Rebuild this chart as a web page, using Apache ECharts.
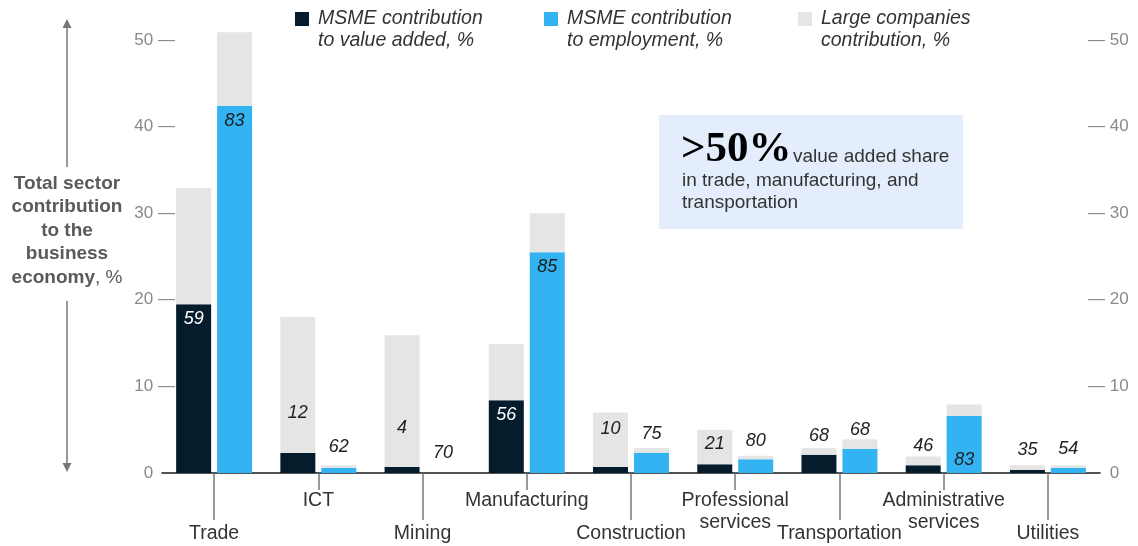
<!DOCTYPE html>
<html>
<head>
<meta charset="utf-8">
<script src="https://cdn.jsdelivr.net/npm/echarts@6/dist/echarts.min.js"></script>
<style>
  html, body { margin: 0; padding: 0; background: #fff; }
  #chart { width: 1138px; height: 546px; }
</style>
</head>
<body>
<div id="chart"></div>
<script>
// ---------------------------------------------------------------------------
// Data – sector contribution to the business economy, %
// ---------------------------------------------------------------------------

const categories = [
  'Trade', 'ICT', 'Mining', 'Manufacturing', 'Construction',
  'Professional\nservices', 'Transportation', 'Administrative\nservices', 'Utilities',
]

// value added: MSME part + large companies part (stacked)
const valueAddedMsme  = [19.5, 2.3, 0.7, 8.4, 0.7, 1.0, 2.1, 0.9, 0.35]
const valueAddedLarge = [13.4, 15.7, 15.2, 6.5, 6.3, 4.0, 0.8, 1.0, 0.55]

// employment: MSME part + large companies part (stacked)
const employmentMsme  = [42.4, 0.6, 0, 25.5, 2.35, 1.6, 2.8, 6.6, 0.6]
const employmentLarge = [8.5, 0.3, 0, 4.5, 0.55, 0.4, 1.1, 1.3, 0.3]

// MSME share printed on each bar, %
const valueAddedShare = [59, 12, 4, 56, 10, 21, 68, 46, 35]
const employmentShare = [83, 62, 70, 85, 75, 80, 68, 83, 54]

const yTicks = [0, 10, 20, 30, 40, 50]

const legendNames = [
  'MSME contribution\nto value added, %',
  'MSME contribution\nto employment, %',
  'Large companies\ncontribution, %',
]

// ---------------------------------------------------------------------------
// Label placement (style only): where the share label sits and how far off
// ---------------------------------------------------------------------------
const valueAddedLabelAt  = ['msme', 'large', 'large', 'msme', 'large', 'large', 'top', 'top', 'top']
const valueAddedLabelGap = [6, 31, 30, 6, 29, 11, 3, 2, 6]
const employmentLabelAt  = ['msme', 'top', 'top', 'msme', 'top', 'top', 'top', 'msmeBottom', 'top']
const employmentLabelGap = [6, 9, 11, 6, 5, 6, 0, 4, 7]

const FONT = '"Liberation Sans", Arial, sans-serif'
const NAVY = '#051C2C'
const BLUE = '#33B3F2'
const GREY = '#E5E5E5'

function stackData(values, shares, labelAt, gaps, part, insideColor) {
  return values.map((v, i) => {
    const at = labelAt[i]
    let label = { show: false }
    if (part === 'msme' && at === 'msme') {
      label = { show: true, position: 'insideTop', distance: gaps[i], color: insideColor }
    } else if (part === 'msme' && at === 'msmeBottom') {
      label = { show: true, position: 'insideBottom', distance: gaps[i] }
    } else if (part === 'large' && at === 'large') {
      label = { show: true, position: 'insideBottom', distance: gaps[i] }
    } else if (part === 'large' && at === 'top') {
      label = { show: true, position: 'top', distance: gaps[i] }
    }
    label.formatter = String(shares[i])
    return { value: v, label }
  })
}

const barLabel = {
  fontFamily: FONT, fontSize: 18, fontStyle: 'italic', color: '#222',
}

// category axis: long ticks under even sectors, short ones under odd sectors
function categoryAxis(even, tickLen, labelMargin, showLine) {
  const pick = (i) => (i % 2 === 0) === even
  return {
    type: 'category',
    data: categories,
    position: 'bottom',
    axisLine: { show: showLine, lineStyle: { color: '#1a1a1a', width: 1.5 } },
    axisTick: {
      show: true, alignWithLabel: true, length: tickLen,
      interval: (i) => pick(i),
      lineStyle: { color: '#777', width: 1.5 },
    },
    axisLabel: {
      interval: (i) => pick(i), margin: labelMargin,
      fontSize: 19.5, color: '#333', lineHeight: 22, fontFamily: FONT,
    },
  }
}

const chart = echarts.init(document.getElementById('chart'))

const legendLeft = [295, 544, 798]

chart.setOption({
  animation: false,
  textStyle: { fontFamily: FONT },
  grid: { left: 162, right: 38, top: 40, bottom: 73, outerBoundsMode: 'none' },
  legend: legendNames.map((name, i) => ({
    data: [name],
    left: legendLeft[i],
    top: -17,
    padding: 0,
    icon: 'rect',
    itemWidth: 14,
    itemHeight: 14,
    selectedMode: false,
    formatter: (n) => '\n' + n,
    textStyle: {
      fontFamily: FONT, fontSize: 19.5, fontStyle: 'italic', color: '#333',
      lineHeight: 22, padding: [6, 0, 0, 4],
    },
  })),
  xAxis: [
    categoryAxis(true, 47, 50, true),
    categoryAxis(false, 17, 17, false),
  ],
  yAxis: [
    {
      type: 'value', position: 'left',
      min: yTicks[0], max: yTicks[yTicks.length - 1], interval: 10,
      axisLine: { show: false }, axisTick: { show: false }, splitLine: { show: false },
      axisLabel: {
        margin: -13, fontSize: 17, color: '#8a8a8a', fontFamily: FONT,
        formatter: (v) => (v === 0 ? '0 {h|—}' : v + ' —'),
        rich: { h: { color: 'rgba(0,0,0,0)' } },
      },
    },
    {
      type: 'value', position: 'right',
      min: yTicks[0], max: yTicks[yTicks.length - 1], interval: 10,
      axisLine: { show: false }, axisTick: { show: false }, splitLine: { show: false },
      axisLabel: {
        margin: -12, fontSize: 17, color: '#8a8a8a', fontFamily: FONT,
        formatter: (v) => (v === 0 ? '{h|—} 0' : '— ' + v),
        rich: { h: { color: 'rgba(0,0,0,0)' } },
      },
    },
  ],
  series: [
    {
      name: legendNames[0], type: 'bar', stack: 'va', barWidth: 35, barGap: '17%', clip: false,
      itemStyle: { color: NAVY }, label: barLabel,
      data: stackData(valueAddedMsme, valueAddedShare, valueAddedLabelAt, valueAddedLabelGap, 'msme', '#fff'),
    },
    {
      name: legendNames[2], type: 'bar', stack: 'va', barWidth: 35, barGap: '17%', clip: false,
      itemStyle: { color: GREY }, label: barLabel,
      data: stackData(valueAddedLarge, valueAddedShare, valueAddedLabelAt, valueAddedLabelGap, 'large'),
    },
    {
      name: legendNames[1], type: 'bar', stack: 'emp', barWidth: 35, barGap: '17%', clip: false,
      itemStyle: { color: BLUE }, label: barLabel,
      data: stackData(employmentMsme, employmentShare, employmentLabelAt, employmentLabelGap, 'msme', '#1a1a1a'),
    },
    {
      name: legendNames[2], type: 'bar', stack: 'emp', barWidth: 35, barGap: '17%', clip: false,
      itemStyle: { color: GREY }, label: barLabel,
      data: stackData(employmentLarge, employmentShare, employmentLabelAt, employmentLabelGap, 'large'),
    },
  ],
  graphic: [
    // y-axis title with arrows
    {
      type: 'line', silent: true,
      shape: { x1: 67, y1: 27, x2: 67, y2: 167 },
      style: { stroke: '#777', lineWidth: 1.5 },
    },
    {
      type: 'polygon', silent: true,
      shape: { points: [[67, 19], [62.5, 28], [71.5, 28]] },
      style: { fill: '#777' },
    },
    {
      type: 'line', silent: true,
      shape: { x1: 67, y1: 301, x2: 67, y2: 464 },
      style: { stroke: '#777', lineWidth: 1.5 },
    },
    {
      type: 'polygon', silent: true,
      shape: { points: [[67, 472], [62.5, 463], [71.5, 463]] },
      style: { fill: '#777' },
    },
    {
      type: 'text', silent: true, x: 67, y: 172,
      style: {
        text: '{b|Total sector}\n{b|contribution}\n{b|to the}\n{b|business}\n{b|economy}{n|, %}',
        align: 'center', verticalAlign: 'top',
        rich: {
          b: { fontFamily: FONT, fontSize: 19, fontWeight: 'bold', fill: '#5a5a5a', lineHeight: 23.5 },
          n: { fontFamily: FONT, fontSize: 19, fill: '#5a5a5a', lineHeight: 23.5 },
        },
      },
    },
    // callout box
    {
      type: 'rect', silent: true,
      shape: { x: 659, y: 115, width: 304, height: 114 },
      style: { fill: '#E4EDFB' },
    },
    {
      type: 'text', silent: true, x: 681, y: 128,
      style: {
        text: '>50%', fill: '#000',
        font: 'bold 43px "Liberation Serif", "DejaVu Serif", serif',
        verticalAlign: 'top',
      },
    },
    {
      type: 'text', silent: true, x: 793, y: 157,
      style: {
        text: 'value added share', fill: '#333',
        font: '19px ' + FONT, verticalAlign: 'middle',
      },
    },
    {
      type: 'text', silent: true, x: 682, y: 170,
      style: {
        text: 'in trade, manufacturing, and\ntransportation', fill: '#333',
        font: '19px ' + FONT, lineHeight: 22, verticalAlign: 'top',
      },
    },
  ],
})
</script>
</body>
</html>
